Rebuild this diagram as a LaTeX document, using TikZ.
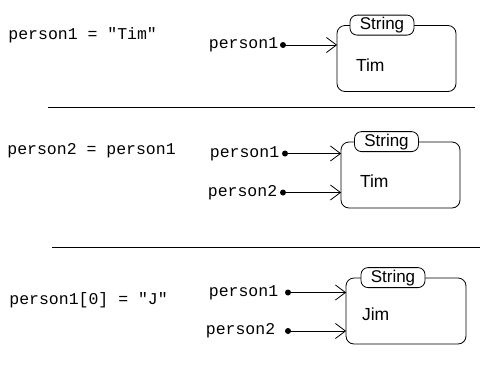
\documentclass[tikz,border=0pt]{standalone}
\usepackage{fontspec}
\setmainfont{Liberation Sans}
\setmonofont{Liberation Mono}
\usetikzlibrary{arrows.meta,positioning}

\begin{document}
\begin{tikzpicture}[
  x=1pt, y=-1pt, line width=0.8pt,
  code/.style={anchor=west, inner sep=0pt, font=\ttfamily\fontsize{16.5}{18}\selectfont},
  strbox/.style={draw, rounded corners=8pt, minimum width=119pt, minimum height=66pt, inner sep=0pt},
  tag/.style={draw, fill=white, rounded corners=7pt, minimum width=64pt, minimum height=20pt, inner sep=0pt, font=\fontsize{17}{19}\selectfont},
  val/.style={anchor=west, inner sep=0pt, font=\fontsize{17.5}{19}\selectfont},
  dot/.style={circle, fill, inner sep=0pt, minimum size=6pt},
  var/.style={inner sep=0pt, font=\ttfamily\fontsize{16.5}{18}\selectfont},
  ref/.style={-{Straight Barb[length=10pt, width=15pt]}, shorten >=-0.5pt},
]
\useasboundingbox (0,0) rectangle (496,373);

% person1 = "Tim"
\node[code] (c1) at (8, 35) {person1 = "Tim"};
\node[strbox] (b1) at (396.5, 58.5) {};
\node[tag] (t1) at ([xshift=-14.5pt]b1.north) {String};
\node[val] (v1) at ([xshift=19pt, yshift=-40pt]b1.north west) {Tim};
\node[dot] (d11) at (283, 45) {};
\node[var, left=1pt of d11] (p11) {person1};
\draw[ref] (d11.center) -- (d11 -| b1.west);

\draw (48, 107) -- (475, 107);

% person2 = person1
\node[code] (c2) at (7, 151) {person2 = person1};
\node[strbox] (b2) at (400.5, 175) {};
\node[tag] (t2) at ([xshift=-14pt]b2.north) {String};
\node[val] (v2) at ([xshift=19pt, yshift=-40pt]b2.north west) {Tim};
\node[dot] (d21) at (285, 153.5) {};
\node[var, left=2pt of d21] (p21) {person1};
\node[dot] (d22) at (283, 192.5) {};
\node[var, left=2pt of d22] (p22) {person2};
\draw[ref] (d21.center) -- (d21 -| b2.west);
\draw[ref] (d22.center) -- (d22 -| b2.west);

\draw (52, 247) -- (480, 247);

% person1[0] = "J"
\node[code] (c3) at (9, 300) {person1[0] = "J"};
\node[strbox, minimum width=120pt] (b3) at (406, 311) {};
\node[tag] (t3) at ([xshift=-13pt]b3.north) {String};
\node[val] (v3) at ([xshift=16pt, yshift=-37pt]b3.north west) {Jim};
\node[dot] (d31) at (288, 292.5) {};
\node[var, left=6pt of d31] (p31) {person1};
\node[dot] (d32) at (288, 331) {};
\node[var, left=9pt of d32] (p32) {person2};
\draw[ref] (d31.center) -- (d31 -| b3.west);
\draw[ref] (d32.center) -- (d32 -| b3.west);
\end{tikzpicture}
\end{document}
